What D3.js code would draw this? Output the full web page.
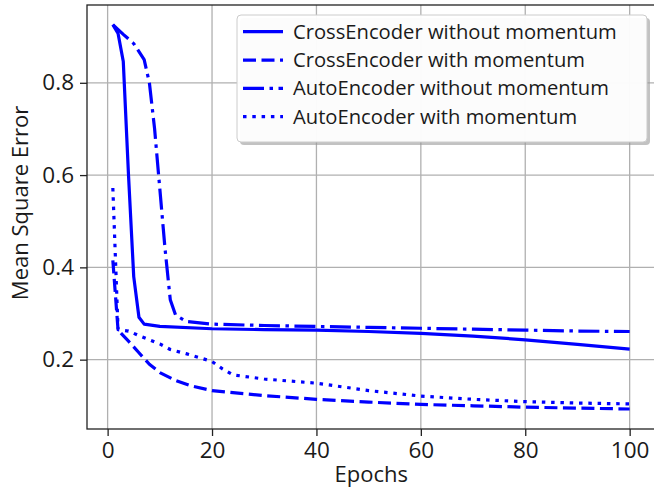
<!DOCTYPE html>
<html>
<head>
<meta charset="utf-8">
<script src="https://cdn.jsdelivr.net/npm/d3@7"></script>
<style>
  body { margin: 0; background: #fff; }
  text { font-family: "Open Sans", sans-serif; fill: #1a1a1a; }
</style>
</head>
<body>
<svg id="chart"></svg>
<script>
var svgWidth = 654, svgHeight = 487;

// values
var crossNoMomEpochs = [1, 2, 3, 4, 5, 6, 7, 10, 20, 30, 40, 50, 60, 70, 80, 90, 100];
var crossNoMom       = [0.926, 0.907, 0.846, 0.60, 0.38, 0.292, 0.277, 0.272, 0.267, 0.265, 0.264, 0.261, 0.257, 0.251, 0.243, 0.233, 0.223];

var crossMomEpochs = [1, 2, 4, 6, 8, 10, 13, 16, 20, 30, 40, 50, 60, 70, 80, 90, 100];
var crossMom       = [0.415, 0.264, 0.24, 0.215, 0.19, 0.172, 0.155, 0.143, 0.133, 0.122, 0.114, 0.108, 0.103, 0.100, 0.097, 0.095, 0.093];

var autoNoMomEpochs = [1, 3, 5, 7, 8, 9, 10, 11, 12, 13, 15, 20, 30, 40, 50, 60, 70, 80, 90, 100];
var autoNoMom       = [0.926, 0.905, 0.885, 0.85, 0.80, 0.70, 0.57, 0.44, 0.33, 0.297, 0.283, 0.277, 0.274, 0.272, 0.27, 0.268, 0.266, 0.264, 0.262, 0.261];

var autoMomEpochs = [1, 2, 4, 6, 8, 10, 12, 15, 18, 20, 22, 24, 30, 40, 50, 60, 70, 80, 90, 100];
var autoMom       = [0.572, 0.265, 0.262, 0.252, 0.243, 0.234, 0.222, 0.213, 0.203, 0.196, 0.18, 0.167, 0.158, 0.149, 0.133, 0.121, 0.114, 0.109, 0.106, 0.104];

var seriesNames = ["CrossEncoder without momentum", "CrossEncoder with momentum",
                   "AutoEncoder without momentum", "AutoEncoder with momentum"];
var xTicks = [0, 20, 40, 60, 80, 100];
var yTicks = [0.2, 0.4, 0.6, 0.8];

var lw = 3.2;
var dashes = ["none", "13,5.5", "21,5.5,3.5,5.5", "3.5,5.8"];

var series = [
  {name: seriesNames[0], x: crossNoMomEpochs, y: crossNoMom, dash: dashes[0]},
  {name: seriesNames[1], x: crossMomEpochs, y: crossMom, dash: dashes[1]},
  {name: seriesNames[2], x: autoNoMomEpochs, y: autoNoMom, dash: dashes[2]},
  {name: seriesNames[3], x: autoMomEpochs, y: autoMom, dash: dashes[3]}
];

// plot box (window.top is reserved, so own names)
var pL = 87, pT = 5, pR = 655.5, pB = 429;

var x = d3.scaleLinear().domain([-3.95, 104.95]).range([pL, pR]);
var y = d3.scaleLinear().domain([0.0497, 0.9686]).range([pB, pT]);

var svg = d3.select("#chart")
  .attr("width", svgWidth)
  .attr("height", svgHeight);

// grid
svg.append("g").selectAll("line")
  .data(xTicks).enter().append("line")
  .attr("x1", d => x(d)).attr("x2", d => x(d))
  .attr("y1", pT).attr("y2", pB)
  .attr("stroke", "#b0b0b0").attr("stroke-width", 1.3);

svg.append("g").selectAll("line")
  .data(yTicks).enter().append("line")
  .attr("x1", pL).attr("x2", pR)
  .attr("y1", d => y(d)).attr("y2", d => y(d))
  .attr("stroke", "#b0b0b0").attr("stroke-width", 1.3);

// lines
var line = d3.line().x(d => x(d[0])).y(d => y(d[1]));

svg.append("g").selectAll("path")
  .data(series).enter().append("path")
  .attr("d", s => line(s.x.map((e, i) => [e, s.y[i]])))
  .attr("fill", "none")
  .attr("stroke", "#0000ff")
  .attr("stroke-width", lw)
  .attr("stroke-linejoin", "round")
  .attr("stroke-dasharray", s => s.dash);

// spines
svg.append("rect")
  .attr("x", pL).attr("y", pT)
  .attr("width", pR - pL).attr("height", pB - pT)
  .attr("fill", "none").attr("stroke", "#222").attr("stroke-width", 1.3);

// axes
var xAxis = svg.append("g")
  .attr("transform", "translate(0," + pB + ")")
  .call(d3.axisBottom(x).tickValues(xTicks).tickSize(7).tickPadding(6).tickFormat(d3.format("d")));
var yAxis = svg.append("g")
  .attr("transform", "translate(" + pL + ",0)")
  .call(d3.axisLeft(y).tickValues(yTicks).tickSize(7).tickPadding(6).tickFormat(d3.format(".1f")));

[xAxis, yAxis].forEach(function(a) {
  a.select(".domain").remove();
  a.selectAll(".tick line").attr("stroke", "#222").attr("stroke-width", 1.3);
  a.selectAll(".tick text").attr("font-size", "22.5px").attr("font-family", "Open Sans").attr("fill", "#1a1a1a");
});

svg.append("text")
  .attr("x", (pL + pR) / 2).attr("y", 482)
  .attr("text-anchor", "middle")
  .attr("font-size", "22px")
  .text("Epochs");

svg.append("text")
  .attr("transform", "translate(28,203) rotate(-90)")
  .attr("text-anchor", "middle")
  .attr("font-size", "22px")
  .text("Mean Square Error");

// legend
var lg = svg.append("g");
lg.append("rect")
  .attr("x", 240).attr("y", 18).attr("width", 410).attr("height", 127)
  .attr("rx", 4).attr("fill", "#999").attr("opacity", 0.6);
lg.append("rect")
  .attr("x", 237).attr("y", 15).attr("width", 410).attr("height", 127)
  .attr("rx", 4).attr("fill", "#fff").attr("fill-opacity", 0.95)
  .attr("stroke", "#cccccc").attr("stroke-width", 1);

var rowY = d3.scaleLinear().domain([0, 3]).range([31.7, 116.7]);
var items = lg.selectAll("g.item").data(series).enter().append("g").attr("class", "item");
items.append("line")
  .attr("x1", 243).attr("x2", 283)
  .attr("y1", (d, i) => rowY(i)).attr("y2", (d, i) => rowY(i))
  .attr("stroke", "#0000ff").attr("stroke-width", lw)
  .attr("stroke-dasharray", d => d.dash);
items.append("text")
  .attr("x", 293).attr("y", (d, i) => rowY(i) + 7)
  .attr("font-size", "20.2px")
  .text(d => d.name);
</script>
</body>
</html>
